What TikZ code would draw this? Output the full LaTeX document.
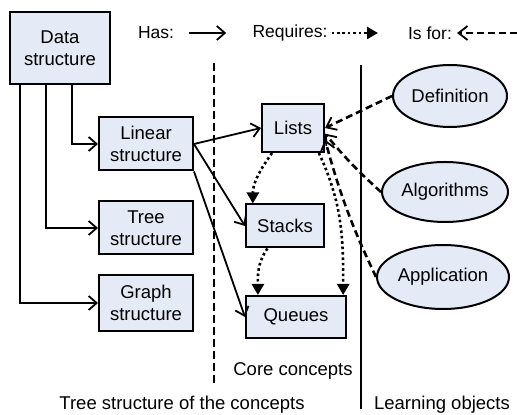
\documentclass[tikz,border=0pt]{standalone}
\usepackage{fontspec}
\setmainfont{Liberation Sans}
\usepackage{tikz}
\usetikzlibrary{positioning}
\usetikzlibrary{arrows.meta,shapes.geometric}
\definecolor{conceptfill}{RGB}{229,235,246}

\begin{document}
\begin{tikzpicture}[
    x=1pt, y=1pt,
    box/.style={draw, line width=2pt, fill=conceptfill, align=center, inner sep=0pt, font=\fontsize{18.5}{22}\selectfont},
    lobj/.style={draw, ellipse, line width=2pt, fill=conceptfill, inner sep=0pt, font=\fontsize{18.5}{22}\selectfont},
    txt/.style={inner sep=0pt, font=\fontsize{18.5}{22}\selectfont},
    legend/.style={inner sep=0pt, font=\fontsize{17.5}{21}\selectfont},
    has/.style={-{Straight Barb[length=8pt,width=14pt,line width=1.8pt]}, line width=1.8pt},
    req/.style={-{Triangle[length=11pt,width=12pt]}, line width=2.6pt, dash pattern=on 2.6pt off 2.8pt},
    isfor/.style={-{Straight Barb[length=9pt,width=14pt,line width=1.8pt]}, line width=2.6pt, dash pattern=on 7pt off 4pt},
    divider/.style={line width=1.8pt}
]
\useasboundingbox (0,0) rectangle (517,415);

% Tree of structures
\node[box, minimum width=100pt, minimum height=72pt] (ds) at (60,367) {Data\\structure};
\node[box, minimum width=94pt, minimum height=53pt] (lin) at (146,271) {Linear\\structure};
\node[box, minimum width=94pt, minimum height=53pt] (tree) at (146,187) {Tree\\structure};
\node[box, minimum width=94pt, minimum height=56pt] (graph) at (146,112) {Graph\\structure};

\draw[has] (ds.south west) ++(63,0) |- (lin.west);
\draw[has] (ds.south west) ++(37,0) |- (tree.west);
\draw[has] (ds.south west) ++(11,0) |- (graph.west);

% Core concepts
\node[box, minimum width=62pt, minimum height=48pt] (lists) at (293,287) {Lists};
\node[box, minimum width=78pt, minimum height=43pt] (stacks) at (285,189) {Stacks};
\node[box, minimum width=100pt, minimum height=42pt] (queues) at (296,98) {Queues};

\draw[has] (lin.east) -- (lists.west);
\draw[has] (lin.east) -- (stacks.west);
\draw[has] (lin.south east) -- (queues.west);

\draw[req] (lists.230) to[out=235,in=90] (stacks.145);
\draw[req] (stacks.232) to[out=235,in=90] (queues.150);
\draw[req] (lists.316) to[out=-65,in=90] (queues.25);

% Learning objects
\node[lobj, minimum width=114pt, minimum height=62pt] (def) at (450,319) {Definition};
\node[lobj, minimum width=126pt, minimum height=60pt] (alg) at (445,223) {Algorithms};
\node[lobj, minimum width=132pt, minimum height=64pt] (app) at (443,138) {Application};

\draw[isfor] (def.west) -- (lists.east);
\draw[isfor] (alg.west) to[bend left=4] (lists.-10);
\draw[isfor] (app.west) to[bend left=5] (lists.-20);

% Dividers
\coordinate (dash1) at (214,352);
\coordinate (dash2) at (214,32);
\draw[line width=2.6pt, dash pattern=on 8pt off 4pt] (dash1) -- (dash2);
\coordinate (sol1) at (361,350);
\coordinate (sol2) at (361,6);
\draw[divider] (sol1) -- (sol2);

% Legend
\node[legend] (hastxt) at (156,382) {Has:};
\coordinate[right=15pt of hastxt] (has1);
\coordinate[right=37pt of has1] (has2);
\draw[has] (has1) -- (has2);

\node[legend] (reqtxt) at (290,382) {Requires:};
\coordinate[right=4pt of reqtxt] (req1);
\coordinate (req2) at (378,382);
\draw[req] (req1) -- (req2);

\node[legend] (isfortxt) at (430,382) {Is for:};
\coordinate (isfor1) at (517,382);
\coordinate[right=5pt of isfortxt] (isfor2);
\draw[isfor] (isfor1) -- (isfor2);

% Region labels
\node[txt] (core) at (293,44) {Core concepts};
\node[txt] (treelbl) at (182,10) {Tree structure of the concepts};
\node[txt] (lolbl) at (442,10) {Learning objects};

\end{tikzpicture}
\end{document}
